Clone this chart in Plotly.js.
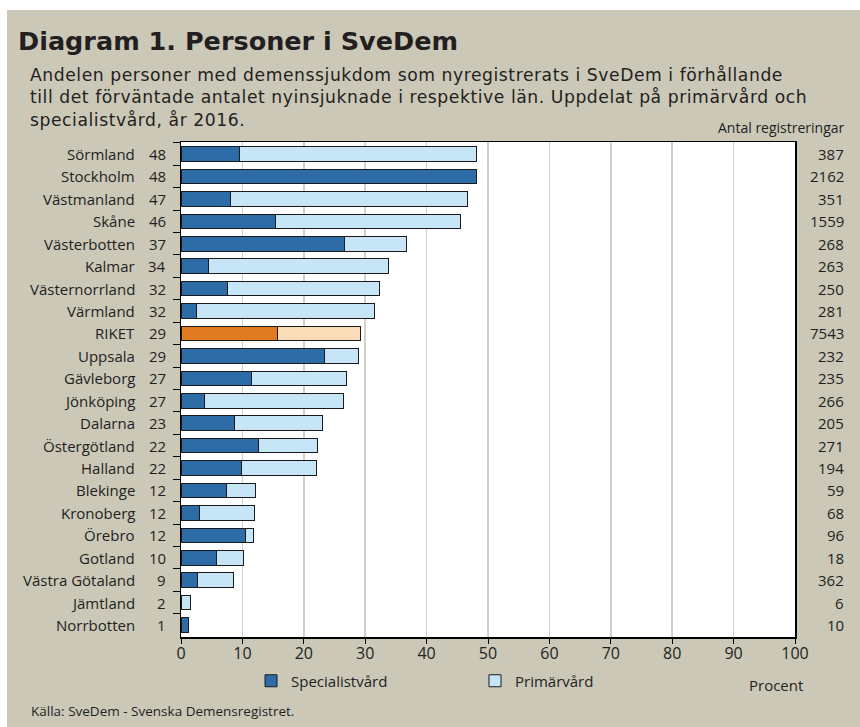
<!DOCTYPE html>
<html>
<head>
<meta charset="utf-8">
<script src="https://cdn.plot.ly/plotly-3.0.1.min.js"></script>
<style>
  body { margin: 0; background: #ffffff; }
  #plot { position: absolute; left: 7px; top: 10px; width: 853px; height: 717px; }
</style>
</head>
<body>
<div id="plot"></div>
<script>
// regions, top to bottom
const regions = ['Sörmland', 'Stockholm', 'Västmanland', 'Skåne', 'Västerbotten', 'Kalmar',
  'Västernorrland', 'Värmland', 'RIKET', 'Uppsala', 'Gävleborg', 'Jönköping', 'Dalarna',
  'Östergötland', 'Halland', 'Blekinge', 'Kronoberg', 'Örebro', 'Gotland', 'Västra Götaland',
  'Jämtland', 'Norrbotten'];
// total share (percent) shown next to the names
const totalLabel = [48, 48, 47, 46, 37, 34, 32, 32, 29, 29, 27, 27, 23, 22, 22, 12, 12, 12, 10, 9, 2, 1];
// specialistvård part
const specialist = [9.5, 48.1, 8.0, 15.4, 26.7, 4.5, 7.5, 2.6, 15.7, 23.3, 11.5, 3.8, 8.7, 12.7, 9.8, 7.4, 3.0, 10.5, 5.7, 2.7, 0, 1.3];
// primärvård part
const primary = [38.7, 0, 38.7, 30.1, 10.0, 29.3, 24.9, 28.9, 13.6, 5.6, 15.5, 22.7, 14.3, 9.5, 12.3, 4.7, 9.0, 1.3, 4.5, 5.8, 1.5, 0];
// antal registreringar
const registrations = [387, 2162, 351, 1559, 268, 263, 250, 281, 7543, 232, 235, 266, 205, 271, 194, 59, 68, 96, 18, 362, 6, 10];

const subtitleLines = [
  'Andelen personer med demenssjukdom som nyregistrerats i SveDem i förhållande',
  'till det förväntade antalet nyinsjuknade i respektive län. Uppdelat på primärvård och',
  'specialistvård, år 2016.'
];

const W = 853, H = 717;
const m = { l: 174, r: 65, t: 132, b: 90 };
const pw = W - m.l - m.r, ph = H - m.t - m.b;
const px = x => (x - m.l) / pw;
const py = y => 1 - (y - m.t) / ph;

const font = 'Open Sans, sans-serif';
const ink = '#231f20';

const specColors = regions.map(r => r === 'RIKET' ? '#e07b22' : '#2e6ca8');
const primColors = regions.map(r => r === 'RIKET' ? '#fadcb9' : '#c6e5f6');

const traces = [
  {
    type: 'bar', orientation: 'h', name: 'Specialistvård', legend: 'legend',
    y: regions, x: specialist,
    marker: { color: specColors, line: { color: '#1a1a1a', width: 1 } },
    hoverinfo: 'skip'
  },
  {
    type: 'bar', orientation: 'h', name: 'Primärvård', legend: 'legend2',
    y: regions, x: primary,
    marker: { color: primColors, line: { color: '#1a1a1a', width: 1 } },
    hoverinfo: 'skip'
  }
];

const annotations = [];
regions.forEach((r, i) => {
  annotations.push({ xref: 'paper', yref: 'y', x: px(130), y: r, text: r, showarrow: false,
    xanchor: 'right', font: { family: font, size: 15, color: ink } });
  annotations.push({ xref: 'paper', yref: 'y', x: px(161), y: r, text: String(totalLabel[i]), showarrow: false,
    xanchor: 'right', font: { family: font, size: 15, color: ink } });
  annotations.push({ xref: 'paper', yref: 'y', x: px(839), y: r, text: String(registrations[i]), showarrow: false,
    xanchor: 'right', font: { family: font, size: 15, color: ink } });
});

// subtitle, a little letter spacing to get the width of the original wide typeface
subtitleLines.forEach((t, i) => {
  annotations.push({ xref: 'paper', yref: 'paper', x: px(21), y: py(65 + i * 22.5), xanchor: 'left', yanchor: 'middle',
    showarrow: false, text: '<span style="letter-spacing:0.55px">' + t + '</span>',
    font: { family: 'DejaVu Sans, sans-serif', size: 17.2, color: ink } });
});

annotations.push(
  { xref: 'paper', yref: 'paper', x: px(9), y: py(31), xanchor: 'left', yanchor: 'middle', showarrow: false,
    text: '<b>Diagram 1. Personer i SveDem</b>', font: { family: 'DejaVu Sans, sans-serif', size: 25.5, color: ink } },
  { xref: 'paper', yref: 'paper', x: px(840), y: py(117), xanchor: 'right', yanchor: 'middle', showarrow: false,
    text: 'Antal registreringar', font: { family: font, size: 14, color: ink } },
  { xref: 'paper', yref: 'paper', x: px(769), y: py(675), xanchor: 'center', yanchor: 'middle', showarrow: false,
    text: 'Procent', font: { family: font, size: 15, color: ink } },
  { xref: 'paper', yref: 'paper', x: px(22), y: py(701), xanchor: 'left', yanchor: 'middle', showarrow: false,
    text: 'Källa: SveDem - Svenska Demensregistret.', font: { family: font, size: 13.5, color: ink } }
);

const legendBase = {
  orientation: 'h', yanchor: 'middle', y: py(671),
  bgcolor: 'rgba(0,0,0,0)', font: { family: font, size: 15, color: ink }
};

const layout = {
  width: W, height: H,
  margin: m,
  paper_bgcolor: '#cbc8b8',
  plot_bgcolor: '#ffffff',
  barmode: 'stack',
  bargap: 0.35,
  showlegend: true,
  legend: Object.assign({}, legendBase, { x: px(244), xanchor: 'left' }),
  legend2: Object.assign({}, legendBase, { x: px(468), xanchor: 'left' }),
  xaxis: {
    range: [0, 100], dtick: 10, tick0: 0,
    showgrid: true, gridcolor: '#d4d0c4', gridwidth: 1.5,
    showline: true, linecolor: '#000', linewidth: 1.5, mirror: true,
    ticks: 'outside', ticklen: 5, tickcolor: '#000',
    ticklabelstandoff: -4,
    tickfont: { family: font, size: 16, color: ink },
    zeroline: false, fixedrange: true
  },
  yaxis: {
    type: 'category', autorange: 'reversed',
    showticklabels: false, tickson: 'boundaries',
    ticks: 'outside', ticklen: 7, tickcolor: '#000',
    showline: true, linecolor: '#000', linewidth: 1.5, mirror: true,
    showgrid: false, fixedrange: true
  },
  annotations: annotations
};

Plotly.newPlot('plot', traces, layout, { displayModeBar: false, staticPlot: true });
</script>
</body>
</html>
